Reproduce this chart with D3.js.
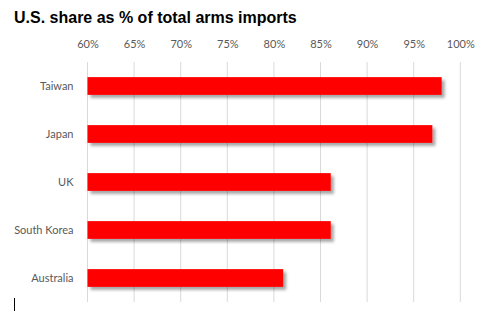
<!DOCTYPE html>
<meta charset="utf-8">
<title>U.S. share of arms imports</title>
<head>
  <script src="https://d3js.org/d3.v7.min.js"></script>
  <style>
    body { margin: 0; background: #fff; }
    .title { font-family: "Liberation Sans", Arial, sans-serif; font-weight: bold; font-size: 16px; fill: #000; }
    .tick text { font-family: Lato, "Open Sans", sans-serif; font-size: 11px; fill: #595959; }
  </style>
</head>
<body>
  <div id="chart"></div>
</body>
<script>
    // data
    var countries = ["Taiwan", "Japan", "UK", "South Korea", "Australia"];
    var shares = [98, 97, 86.1, 86.1, 81];
    var tickValues = [60, 65, 70, 75, 80, 85, 90, 95, 100];

    var W = 481, H = 312;
    var margin = {top: 62, right: 21, bottom: 10, left: 87.5},
        width = 460.3 - margin.left,
        height = 240;

    var svg = d3.select("#chart")
      .append("svg")
        .attr("width", W)
        .attr("height", H);

    // drop shadow for the bars
    var defs = svg.append("defs");
    var f = defs.append("filter").attr("id", "shadow")
        .attr("x", "-5%").attr("y", "-30%").attr("width", "115%").attr("height", "190%");
    f.append("feDropShadow")
        .attr("dx", 3).attr("dy", 3).attr("stdDeviation", 1.8)
        .attr("flood-color", "#000").attr("flood-opacity", 0.35);

    svg.append("text")
        .attr("class", "title")
        .attr("x", 14)
        .attr("y", 23)
        .text("U.S. share as % of total arms imports");

    var g = svg.append("g")
        .attr("transform", "translate(" + margin.left + "," + margin.top + ")");

    var x = d3.scaleLinear()
        .domain([60, 100])
        .range([0, width]);

    var y = d3.scaleBand()
        .domain(countries)
        .range([0, height])
        .paddingInner(0.63)
        .paddingOuter(0.315);

    // gridlines
    g.selectAll(".grid")
        .data(tickValues)
        .enter()
        .append("line")
          .attr("x1", function(d) { return x(d); })
          .attr("x2", function(d) { return x(d); })
          .attr("y1", 0)
          .attr("y2", height)
          .style("stroke", "#d9d9d9")
          .style("stroke-width", 1);

    // top axis labels
    var xAxis = g.append("g")
        .attr("transform", "translate(0,-11)")
        .call(d3.axisTop(x).tickValues(tickValues).tickSize(0).tickFormat(function(d) { return d + "%"; }));
    xAxis.select(".domain").remove();

    // category labels
    var yAxis = g.append("g")
        .attr("transform", "translate(-11,0)")
        .call(d3.axisLeft(y).tickSize(0));
    yAxis.select(".domain").remove();

    // bars
    g.selectAll(".bar")
        .data(countries)
        .enter()
        .append("rect")
          .attr("x", x(60))
          .attr("y", function(d) { return y(d); })
          .attr("width", function(d, i) { return x(shares[i]) - x(60); })
          .attr("height", y.bandwidth())
          .attr("filter", "url(#shadow)")
          .style("fill", "#ff0000");

    // little text cursor left over in the corner
    svg.append("line")
        .attr("x1", 14.5).attr("x2", 14.5)
        .attr("y1", 298).attr("y2", 311)
        .style("stroke", "#000").style("stroke-width", 1);
</script>
